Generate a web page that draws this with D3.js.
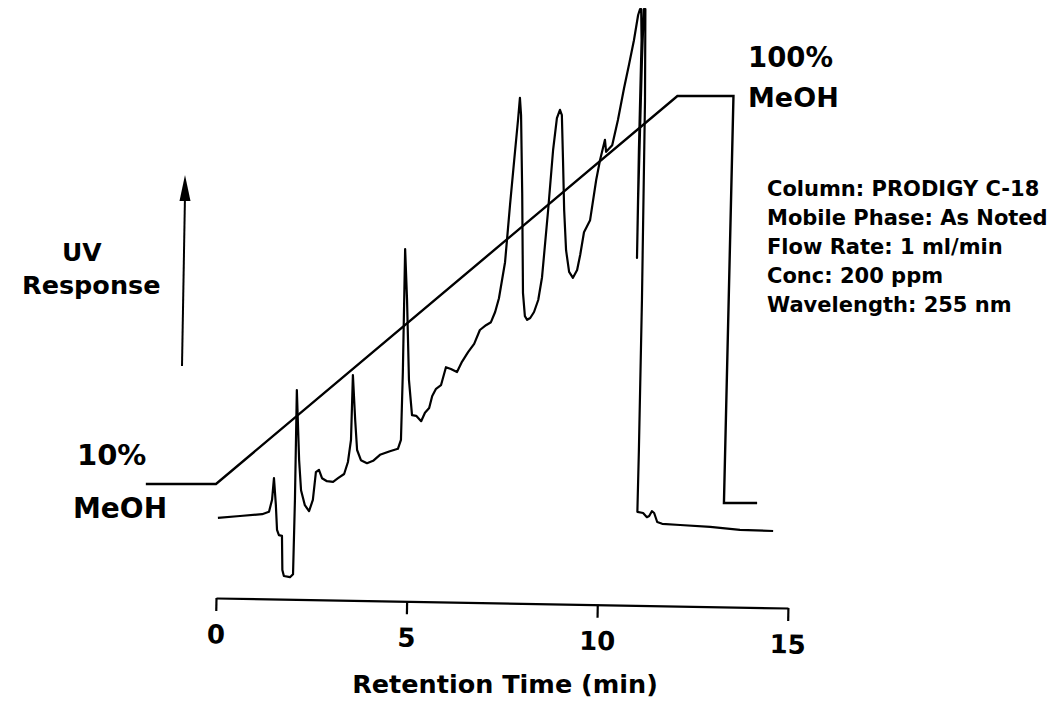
<!DOCTYPE html>
<html>
<head>
<meta charset="utf-8">
<script src="https://cdn.jsdelivr.net/npm/d3@7"></script>
<style>
  html, body { margin: 0; padding: 0; background: #fff; }
  svg { display: block; }
  text { font-family: "DejaVu Sans", "Liberation Sans", Arial, sans-serif; font-weight: bold; fill: #000; }
</style>
</head>
<body>
<svg id="chart" width="1052" height="704"></svg>
<script>
// ---- Data ----
const retentionTime = [0.05,0.63,1.21,1.39,1.47,1.52,1.57,1.60,1.65,1.73,1.74,1.78,1.94,2.02,2.07,2.12,2.18,2.23,2.33,2.44,
  2.54,2.62,2.70,2.78,2.91,3.07,3.20,3.36,3.46,3.54,3.59,3.65,3.70,3.80,3.96,4.12,4.30,4.56,4.77,4.85,
  4.90,4.96,5.01,5.06,5.14,5.25,5.38,5.48,5.59,5.67,5.77,5.90,6.03,6.16,6.32,6.45,6.61,6.77,6.92,7.08,
  7.21,7.32,7.42,7.58,7.71,7.82,7.92,7.97,8.00,8.03,8.05,8.10,8.16,8.24,8.34,8.45,8.55,8.71,8.84,8.94,
  9.02,9.07,9.10,9.13,9.18,9.26,9.36,9.47,9.55,9.65,9.81,9.97,10.07,10.20,10.23,10.39,10.54,10.70,10.83,10.96,
  11.07,11.12,11.15,11.16,11.09,11.04,11.07,11.17,11.22,11.26,11.25,11.17,11.09,11.05,11.20,11.30,11.36,11.43,11.49,11.57,
  11.70,12.17,12.96,13.74,14.61];
const uvResponse = [13.7,14.0,14.3,14.7,16.7,20.3,15.8,11.7,10.8,10.7,5.0,4.0,3.8,4.3,16.7,35.0,23.3,18.3,15.8,14.8,
  16.7,21.3,21.7,20.3,19.8,19.7,20.3,21.0,23.0,26.7,37.5,30.0,25.0,23.3,22.8,23.2,24.2,24.8,25.2,26.7,
  38.0,58.5,50.0,36.7,30.8,30.7,29.8,31.2,32.0,34.0,35.2,35.8,38.8,38.5,38.0,39.7,41.3,42.7,45.0,45.8,
  46.3,48.0,50.3,56.3,65.8,73.3,80.0,83.7,80.8,67.8,51.2,47.3,46.7,47.0,48.0,50.0,53.8,65.0,75.0,80.3,
  81.7,80.8,73.3,65.0,58.3,54.7,53.7,55.0,57.5,61.3,63.3,70.0,73.3,76.7,74.7,75.8,80.0,85.3,89.2,93.3,
  97.5,98.5,98.5,93.3,75.0,57.0,66.7,90.0,98.5,98.5,83.3,50.0,25.0,14.7,14.5,13.8,14.0,14.8,14.5,13.0,
  12.7,12.5,12.2,11.7,11.5];

// Mobile phase gradient (% MeOH) program as drawn
const gradientTime = [-1.84, 0, 12.1, 13.57, 13.32, 14.19];
const gradientMeOH = [10, 10, 100, 100, 5.6, 5.6];

const xTicks = [0, 5, 10, 15];
const xTitle = "Retention Time (min)";
const yTitle = ["UV", "Response"];
const startLabel = ["10%", "MeOH"];
const endLabel = ["100%", "MeOH"];
const conditions = ["Column: PRODIGY C-18", "Mobile Phase: As Noted", "Flow Rate: 1 ml/min", "Conc: 200 ppm", "Wavelength: 255 nm"];

// ---- Drawing ----
const svg = d3.select("#chart");

const x = d3.scaleLinear().domain([0, 15]).range([216, 788]);
const y = d3.scaleLinear().domain([0, 100]).range([600, 0]);
const yg = d3.scaleLinear().domain([10, 100]).range([484, 96]);

// gradient line
svg.append("path")
  .datum(gradientTime.map((t, i) => [t, gradientMeOH[i]]))
  .attr("fill", "none")
  .attr("stroke", "#000")
  .attr("stroke-width", 2.4)
  .attr("d", d3.line().x(d => x(d[0])).y(d => yg(d[1])));

// chromatogram trace
svg.append("path")
  .datum(retentionTime.map((t, i) => [t, uvResponse[i]]))
  .attr("fill", "none")
  .attr("stroke", "#000")
  .attr("stroke-width", 2.2)
  .attr("stroke-linejoin", "round")
  .attr("d", d3.line().x(d => x(d[0])).y(d => y(d[1])));

// x axis (slightly tilted as in the scan)
const axisG = svg.append("g")
  .attr("transform", "translate(0,598) rotate(1,216,0)")
  .call(d3.axisBottom(x).tickValues(xTicks).tickSize(13).tickSizeOuter(0).tickPadding(14).tickFormat(d3.format("d")));
axisG.select(".domain").attr("stroke", "#000").attr("stroke-width", 2.2);
axisG.selectAll(".tick line").attr("stroke", "#000").attr("stroke-width", 2.2);
axisG.selectAll(".tick text")
  .attr("font-family", "DejaVu Sans, Liberation Sans, Arial, sans-serif")
  .attr("font-weight", "bold")
  .attr("font-size", 26)
  .attr("fill", "#000");

svg.append("text")
  .attr("x", 505).attr("y", 693)
  .attr("text-anchor", "middle")
  .attr("font-size", 25.5)
  .text(xTitle);

// UV response label and arrow
svg.append("text").attr("x", 62).attr("y", 261).attr("font-size", 25).text(yTitle[0]);
svg.append("text").attr("x", 22).attr("y", 294).attr("font-size", 25.5).text(yTitle[1]);

svg.append("line")
  .attr("x1", 182).attr("y1", 366).attr("x2", 185).attr("y2", 195)
  .attr("stroke", "#000").attr("stroke-width", 2);
svg.append("path")
  .attr("d", "M185,175 L179.5,201 L190.5,201 Z").attr("fill", "#000");

// gradient labels
svg.append("text").attr("x", 77).attr("y", 465).attr("font-size", 29).text(startLabel[0]);
svg.append("text").attr("x", 73).attr("y", 518).attr("font-size", 28).text(startLabel[1]);
svg.append("text").attr("x", 748).attr("y", 67).attr("font-size", 27.5).text(endLabel[0]);
svg.append("text").attr("x", 748).attr("y", 107).attr("font-size", 27).text(endLabel[1]);

// conditions block
svg.selectAll(".cond").data(conditions).enter().append("text")
  .attr("x", 767).attr("y", (d, i) => 196 + i * 29)
  .attr("font-size", 21)
  .text(d => d);
</script>
</body>
</html>
